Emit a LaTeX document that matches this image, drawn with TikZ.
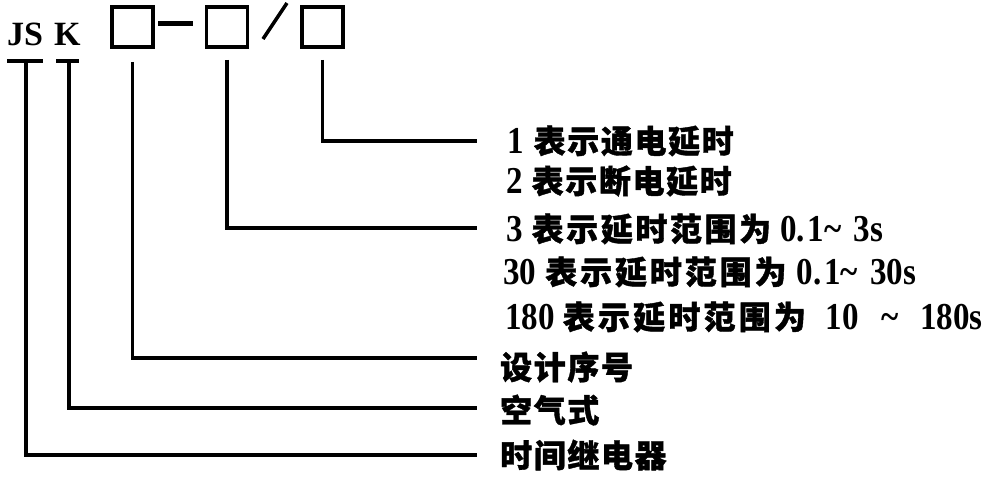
\documentclass[tikz,border=0pt]{standalone}
\usepackage{fontspec}
\setmainfont{Liberation Serif}
\newfontfamily\latn{Liberation Serif}[FakeStretch=0.87]
\newfontfamily\zhfont{Noto Sans CJK SC}
\newcommand\zhs[2]{{\zhfont\bfseries\fontsize{32}{32}\selectfont\addfontfeatures{LetterSpace=#1,FakeBold=1.2}#2}}
\begin{document}
\begin{tikzpicture}[x=1pt,y=-1pt,
  sq/.style={draw,line width=3.5pt,minimum width=41pt,minimum height=40pt,inner sep=0pt},
  conn/.style={line width=3.2pt},
  bar/.style={line width=4pt},
  lbl/.style={anchor=west,inner sep=0pt,font=\latn\bfseries\fontsize{38}{38}\selectfont},
  head/.style={anchor=base west,inner sep=0pt,font=\bfseries\fontsize{34}{34}\selectfont}]
\useasboundingbox (0,0) rectangle (995,480);
% header
\node[head] (js) at (7,45) {JS};
\node[head] (k) at (54,45) {K};
\node[sq] (b1) at (132.5,27) {};
\node[sq] (b2) at (227,27) {};
\node[sq] (b3) at (322.5,27) {};
\coordinate (d1) at (158,23);
\coordinate (d2) at (193,23);
\draw[line width=5pt] (d1) -- (d2);
\coordinate (s1) at (263,39);
\coordinate (s2) at (287,3);
\draw[line width=3.5pt] (s1) -- (s2);
% underbars
\coordinate (jsl) at (7,61); \coordinate (jsr) at (43,61); \coordinate (jsm) at (26,61);
\coordinate (kl) at (56,61); \coordinate (kr) at (79,61); \coordinate (km) at (69,61);
\draw[bar] (jsl) -- (jsr);
\draw[bar] (kl) -- (kr);
% labels
\node[lbl] (t1) at (507,141) {1\hspace{10pt}\zhs{5}{表示通电延时}};
\node[lbl] (t2) at (506,181) {2\hspace{9pt}\zhs{5}{表示断电延时}};
\node[lbl] (t3) at (506,229) {3\hspace{9pt}\zhs{8}{表示延时范围为}\hspace{9pt}0.\kern3pt1\textasciitilde\hspace{12pt}3s};
\node[lbl] (t4) at (503,272) {30\hspace{9pt}\zhs{9}{表示延时范围为}\hspace{10pt}0.\kern3pt1\textasciitilde\hspace{12pt}30s};
\node[lbl] (t5) at (505,317) {180\hspace{8pt}\zhs{10}{表示延时范围为}\hspace{20pt}10\hspace{22pt}\textasciitilde\hspace{22pt}180s};
\node[lbl] (t6) at (500,367) {\zhs{5}{设计序号}};
\node[lbl] (t7) at (500,410) {\zhs{5}{空气式}};
\node[lbl] (t8) at (500,455) {\zhs{5}{时间继电器}};
% connector ends
\coordinate (e1) at (477,141);
\coordinate (e3) at (477,228);
\coordinate (e6) at (477,358);
\coordinate (e7) at (477,408);
\coordinate (e8) at (477,455);
% connectors
\draw[conn] ([yshift=-11pt]b3.south) |- (e1);
\draw[conn] ([yshift=-11pt]b2.south) |- (e3);
\draw[conn] ([yshift=-13pt]b1.south) |- (e6);
\draw[conn] (km) |- (e7);
\draw[conn] (jsm) |- (e8);
\end{tikzpicture}
\end{document}
